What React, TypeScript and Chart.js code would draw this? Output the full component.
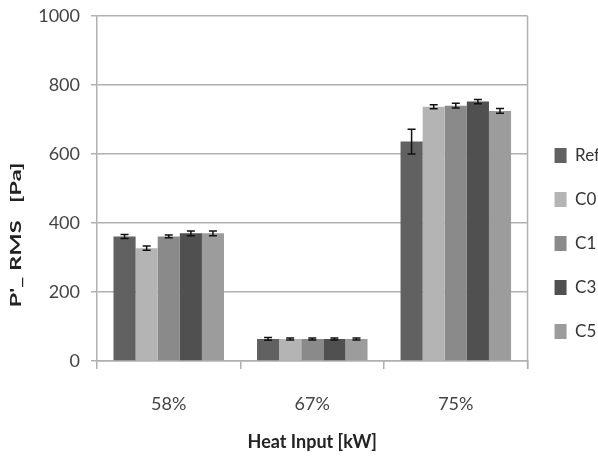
import React, { useEffect, useRef } from "react";
import { Chart, registerables } from "chart.js";

Chart.register(...registerables);

const categories = ["58%", "67%", "75%"];
const seriesNames = ["Ref", "C0", "C1", "C3", "C5"];
const refValues = [361, 64, 636];
const c0Values = [327, 64, 737];
const c1Values = [361, 64, 740];
const c3Values = [370, 64, 752];
const c5Values = [370, 64, 725];
const refErrors = [6, 4, 36];
const c0Errors = [6, 3, 6];
const c1Errors = [4, 3, 7];
const c3Errors = [7, 3, 6];
const c5Errors = [7, 3, 7];
const yTicks = [0, 200, 400, 600, 800, 1000];
const yTitle = "P'_ RMS   [Pa]";
const xTitle = "Heat Input [kW]";

const seriesValues = [refValues, c0Values, c1Values, c3Values, c5Values];
const seriesErrors = [refErrors, c0Errors, c1Errors, c3Errors, c5Errors];
const seriesColors = ["#616161", "#b4b4b4", "#8a8a8a", "#505050", "#9c9c9c"];

const FONT = "Lato, 'Liberation Sans', sans-serif";

// Draws a +/- error bar with caps on top of every bar
const errorBarPlugin = {
  id: "errorBars",
  afterDatasetsDraw(chart: any) {
    const ctx = chart.ctx;
    const yScale = chart.scales.y;
    ctx.save();
    ctx.strokeStyle = "#111";
    ctx.lineWidth = 1.5;
    chart.data.datasets.forEach((ds: any, i: number) => {
      const meta = chart.getDatasetMeta(i);
      meta.data.forEach((bar: any, j: number) => {
        const v = ds.data[j];
        const e = ds.errors[j];
        const x = bar.x;
        const yTop = yScale.getPixelForValue(v + e);
        const yBot = yScale.getPixelForValue(v - e);
        const cap = 4;
        ctx.beginPath();
        ctx.moveTo(x, yTop);
        ctx.lineTo(x, yBot);
        ctx.moveTo(x - cap, yTop);
        ctx.lineTo(x + cap, yTop);
        ctx.moveTo(x - cap, yBot);
        ctx.lineTo(x + cap, yBot);
        ctx.stroke();
      });
    });
    ctx.restore();
  },
};

// Right border of the plot area and the rotated value-axis title
const frameAndTitlePlugin = {
  id: "frameAndTitle",
  beforeDatasetsDraw(chart: any) {
    const { ctx, chartArea } = chart;
    ctx.save();
    ctx.strokeStyle = "#b0b0b0";
    ctx.lineWidth = 1.5;
    ctx.beginPath();
    ctx.moveTo(chartArea.right, chartArea.top);
    ctx.lineTo(chartArea.right, chartArea.bottom + 8);
    ctx.stroke();
    ctx.restore();
  },
  afterDraw(chart: any) {
    const ctx = chart.ctx;
    ctx.save();
    ctx.translate(16, 235);
    ctx.rotate(-Math.PI / 2);
    ctx.scale(1.48, 1);
    ctx.fillStyle = "#222";
    ctx.font = `bold 16px ${FONT}`;
    ctx.textAlign = "center";
    ctx.textBaseline = "middle";
    ctx.fillText(yTitle, 0, 0);
    ctx.restore();
  },
};

export default function App() {
  const canvasRef = useRef<HTMLCanvasElement | null>(null);

  useEffect(() => {
    if (!canvasRef.current) return;
    const chart = new Chart(canvasRef.current, {
      type: "bar",
      data: {
        labels: categories,
        datasets: seriesNames.map((name, i) => ({
          label: name,
          data: seriesValues[i],
          errors: seriesErrors[i],
          backgroundColor: seriesColors[i],
          borderWidth: 0,
          barPercentage: 1,
          categoryPercentage: 0.77,
        })) as any,
      },
      options: {
        animation: false,
        responsive: false,
        maintainAspectRatio: false,
        layout: { padding: { top: 16, right: -12, bottom: 9, left: 38 } },
        plugins: {
          tooltip: { enabled: false },
          legend: {
            position: "right",
            align: "center",
            title: {
              display: true,
              text: " ",
              padding: 0,
              font: { size: 10, lineHeight: 1.8 },
            },
            labels: {
              boxWidth: 12,
              boxHeight: 15,
              padding: 27,
              color: "#333",
              font: { family: FONT, size: 17 },
            },
          },
        },
        scales: {
          x: {
            afterFit: (axis: any) => {
              axis.height = 92;
            },
            grid: {
              display: true,
              drawOnChartArea: false,
              drawTicks: true,
              tickLength: 8,
              offset: true,
              color: "#b0b0b0",
              lineWidth: 1.5,
            },
            border: { color: "#b0b0b0", width: 1.5 },
            ticks: {
              color: "#444",
              padding: 24,
              font: { family: FONT, size: 18 },
            },
            title: {
              display: true,
              text: xTitle,
              color: "#222",
              padding: { top: 15, bottom: 0 },
              font: { family: FONT, size: 18, weight: "bold" },
            },
          },
          y: {
            min: 0,
            max: 1000,
            afterFit: (axis: any) => {
              axis.width = 59;
              axis.paddingTop = 0;
              axis.paddingBottom = 0;
            },
            afterBuildTicks: (axis: any) => {
              axis.ticks = yTicks.map((v) => ({ value: v }));
            },
            grid: {
              color: "#b0b0b0",
              lineWidth: 1.5,
              tickLength: 6,
            },
            border: { color: "#b0b0b0", width: 1.5 },
            ticks: {
              color: "#444",
              padding: 11,
              font: { family: FONT, size: 18 },
              callback: (v: any) => String(v),
            },
          },
        },
      },
      plugins: [errorBarPlugin, frameAndTitlePlugin],
    });
    return () => chart.destroy();
  }, []);

  return (
    <div style={{ position: "absolute", left: 0, top: 0, width: 598, height: 462, background: "#fff" }}>
      <canvas ref={canvasRef} width={598} height={462} />
    </div>
  );
}
